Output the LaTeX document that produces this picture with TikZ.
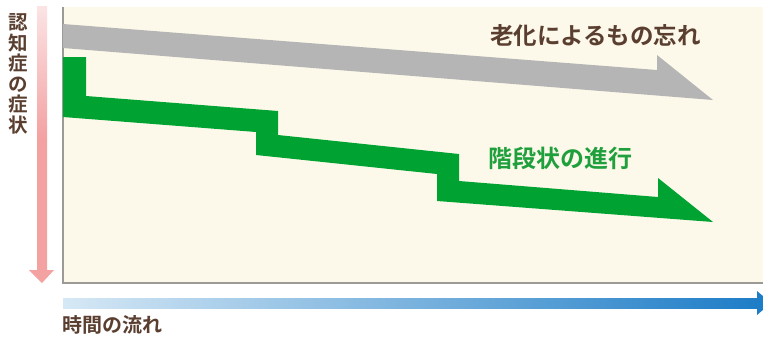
\documentclass[tikz,border=0pt]{standalone}
\usepackage{fontspec}
\newfontfamily\jpfont{Noto Sans CJK JP}[BoldFont={* Bold}]
\begin{document}
\begin{tikzpicture}[x=1pt,y=-1pt,
  lbl/.style={inner sep=0pt,font=\jpfont\bfseries},
]
\definecolor{cream}{HTML}{FDF9EA}
\definecolor{brownT}{HTML}{5A3F30}
\definecolor{grayA}{HTML}{B5B5B5}
\definecolor{greenA}{HTML}{00A332}
\definecolor{greenT}{HTML}{1FA03C}
\definecolor{pinkL}{HTML}{FBE4E5}
\definecolor{pinkD}{HTML}{F4A1A1}
\definecolor{blueL}{HTML}{D6E8F5}
\definecolor{blueD}{HTML}{1E7DC7}
\definecolor{axisG}{HTML}{9C9A96}
\path[use as bounding box,fill=white] (0,0) rectangle (763,338);
% plot area
\fill[cream] (63,7) rectangle (763,283);
\draw[axisG,line width=1.5pt] (63,7) -- (63,283) -- (763,283);
% gray arrow
\fill[grayA] (63,24) -- (657,70) -- (657,55) -- (713,100) -- (63,48) -- cycle;
% green staircase arrow
\fill[greenA] (63,57) -- (86,57) -- (86,96) -- (278,111) -- (278,135) -- (459,154)
  -- (459,181) -- (658,197) -- (658,178) -- (713,222) -- (437,201) -- (437,174)
  -- (256,155) -- (256,132) -- (63,117) -- cycle;
% vertical axis arrow
\shade[top color=pinkL,bottom color=pinkD,middle color=pinkD] (37,6) rectangle (47,271);
\fill[pinkD] (29,270) -- (54,270) -- (42,283) -- cycle;
% horizontal axis arrow
\shade[left color=blueL,right color=blueD] (63,298) rectangle (758,308);
\fill[blueD] (757,291) -- (757,315) -- (771,303) -- cycle;
% labels
\node[lbl,text=brownT,font=\jpfont\bfseries\fontsize{23.5}{24}\selectfont] (aging) at (595.5,36) {老化によるもの忘れ};
\node[lbl,text=greenT,font=\jpfont\bfseries\fontsize{24}{24}\selectfont] (step) at (560,158) {階段状の進行};
\node[lbl,text=brownT,anchor=west,font=\jpfont\bfseries\fontsize{20}{20}\selectfont] (time) at (62,325) {時間の流れ};
\node[lbl,text=brownT,align=center,font=\jpfont\bfseries\fontsize{19.5}{20.5}\selectfont] (symp) at (18,74) {認\\知\\症\\の\\症\\状};
\end{tikzpicture}
\end{document}
